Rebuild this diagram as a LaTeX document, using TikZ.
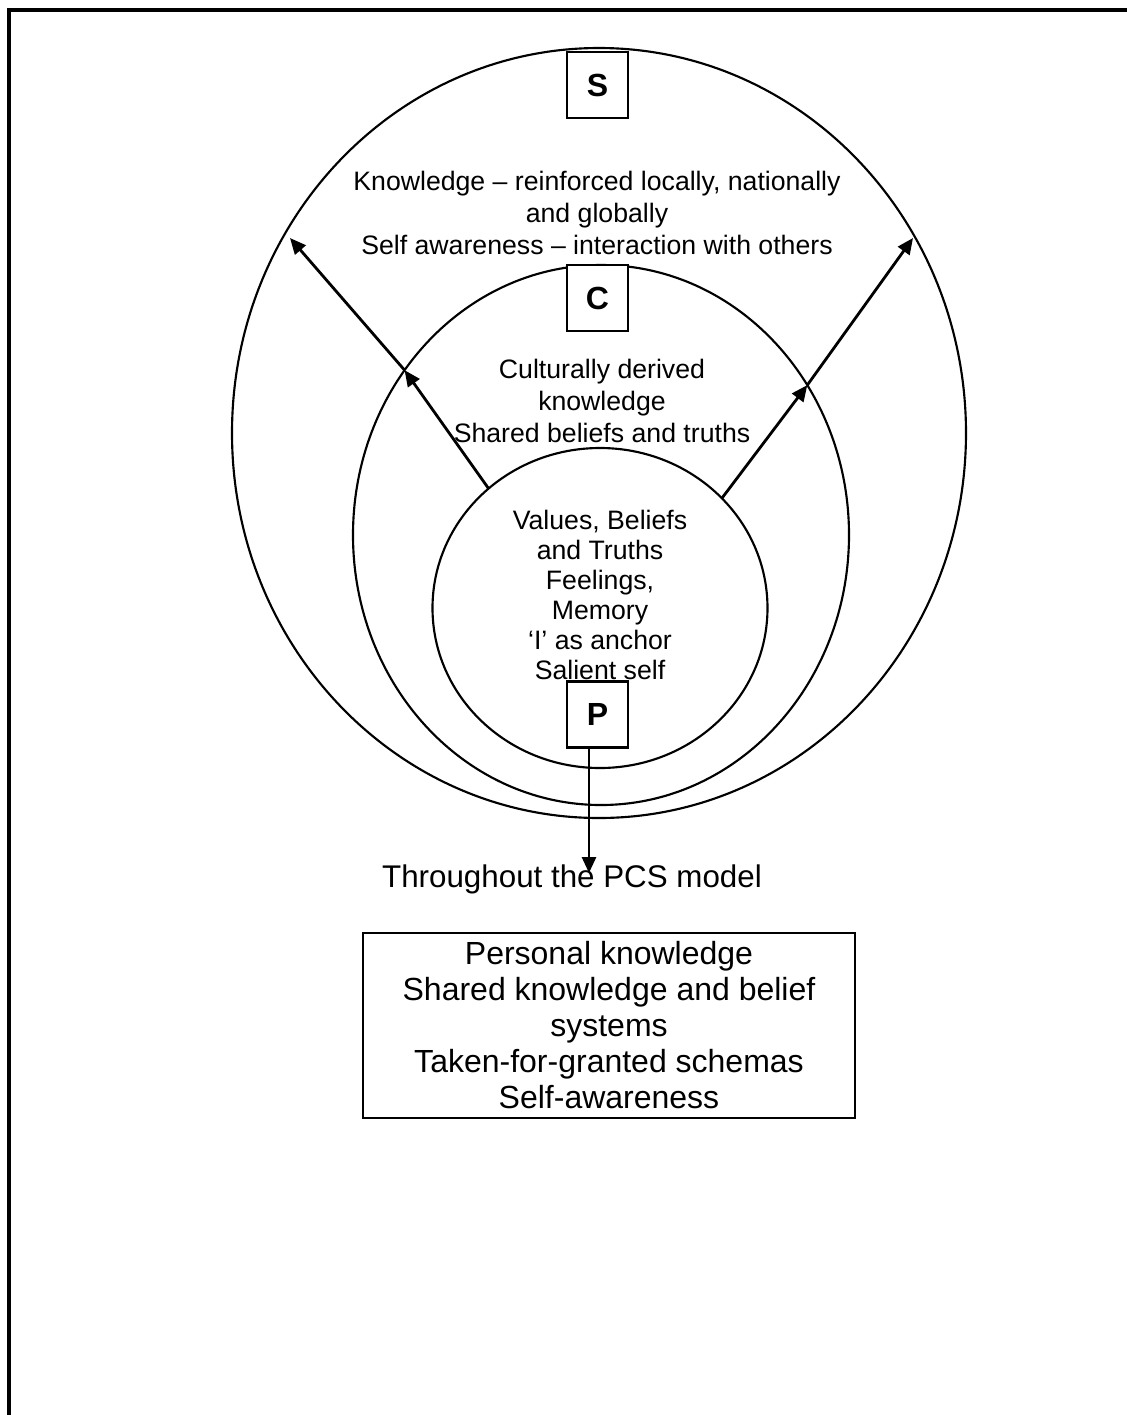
\documentclass[tikz,border=0pt]{standalone}
\usepackage{fontspec}
\setmainfont{Liberation Sans}
\usetikzlibrary{shapes.geometric,arrows.meta}
\begin{document}
\begin{tikzpicture}[x=0.75pt,y=-0.75pt,
  ring/.style={ellipse,draw,line width=1.6pt,inner sep=0pt,outer sep=0pt},
  letterbox/.style={draw,fill=white,line width=1.6pt,minimum width=45.75pt,minimum height=49.5pt,inner sep=0pt,outer sep=0pt,font=\fontsize{24}{28}\selectfont\bfseries},
  bodytext/.style={align=center,font=\fontsize{20}{24}\selectfont,inner sep=0pt},
  conn/.style={line width=2.1pt,-{Triangle[length=12pt,width=10.5pt]}}]
\useasboundingbox (0,0) rectangle (1127,1415);
\fill[white] (0,0) rectangle (1127,1415);
\draw[line width=3pt] (9.3,1415) -- (9.3,10.3) -- (1127,10.3);
\node[ring,minimum width=550.5pt,minimum height=577.5pt] (outer) at (599,433) {};
\node[ring,minimum width=372pt,minimum height=405pt] (middle) at (601,535) {};
\node[ring,minimum width=251.25pt,minimum height=240pt] (inner) at (600,608) {};
\coordinate (ltip) at (290,238);
\coordinate (rtip) at (913,238);
\draw[conn] (inner.133.3) -- (middle.140.9);
\draw[conn] (middle.140.9) -- (ltip);
\draw[conn] (inner.42.3) -- (middle.36.9);
\draw[conn] (middle.36.9) -- (rtip);
\node[letterbox] (S) at (597.5,85) {S};
\node[letterbox] (C) at (597.5,298) {C};
\node[letterbox] (P) at (597.5,714.5) {P};
\coordinate (pend) at (589,873);
\draw[conn] (P.south -| pend) -- (pend);
\node[bodytext] (stext) at (597,213) {Knowledge – reinforced locally, nationally\\and globally\\Self awareness – interaction with others};
\node[bodytext] (ctext) at (602,401) {Culturally derived\\knowledge\\Shared beliefs and truths};
\node[bodytext,font=\fontsize{20}{22.5}\selectfont] (ptext) at (600,595) {Values, Beliefs\\and Truths\\Feelings,\\Memory\\‘I’ as anchor\\Salient self};
\node[font=\fontsize{23.5}{26}\selectfont,anchor=base,inner sep=0pt] (through) at (572,887) {Throughout the PCS model};
\node[draw,line width=1.6pt,minimum width=369pt,minimum height=138.75pt,align=center,inner sep=0pt,font=\fontsize{24}{27}\selectfont] (summary) at (609,1025.5) {Personal knowledge\\Shared knowledge and belief\\systems\\Taken-for-granted schemas\\Self-awareness};
\end{tikzpicture}
\end{document}
